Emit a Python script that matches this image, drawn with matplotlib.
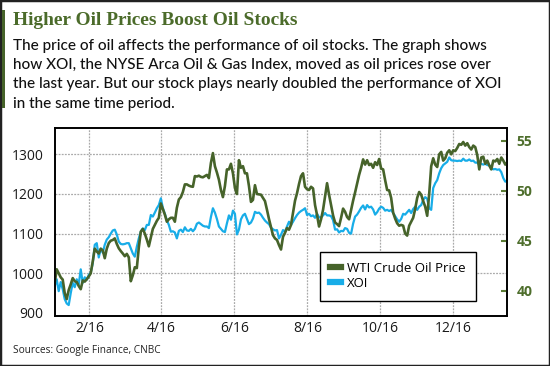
import matplotlib
matplotlib.use('Agg')
import matplotlib.pyplot as plt
import pandas as pd
from matplotlib.patches import Rectangle
from matplotlib.lines import Line2D

wti = [40.75, 42.14, 41.74, 41.34, 41.11, 39.76, 39.16, 40.07, 40.63, 41.26,
       40.95, 40.87, 40.47, 40.15, 41.03, 40.91, 41.14, 41.42, 41.74, 42.93,
       44.20, 43.92, 43.72, 44.20, 44.04, 43.25, 44.20, 44.76, 45.00, 45.07,
       45.23, 44.68, 44.24, 43.96, 43.72, 43.45, 43.68, 43.33,
       40.95, 41.54, 42.34, 42.26, 44.32, 45.91, 46.18, 45.71, 45.11, 44.44,
       45.31, 46.18, 46.58, 46.98, 47.29, 48.72, 48.17, 47.61, 46.90, 47.14,
       47.29, 47.29, 46.90, 48.29, 49.12, 49.36, 49.87, 50.63, 50.63, 50.51,
       50.43, 50.39, 51.46, 51.42, 51.50,
       51.38, 51.34, 51.46, 51.58, 51.26, 52.77, 53.76, 52.45, 51.82, 51.10,
       50.07, 49.36, 50.47, 52.13, 52.13, 52.69, 51.74, 50.27, 49.67, 53.05,
       52.29, 52.45, 51.74, 51.74, 50.47, 48.88, 49.08, 50.55, 49.67, 49.63,
       49.60, 49.28, 48.96, 48.09, 47.17, 46.34, 45.55, 45.23,
       45.07, 44.56, 44.12, 45.39, 45.79, 46.26, 46.10, 46.58, 47.77, 49.00,
       49.75, 50.67, 51.46, 51.74, 50.39, 50.15, 50.07, 50.39, 50.23, 48.56,
       47.57, 46.42, 47.14, 48.09, 49.40, 50.75, 49.60, 48.56, 47.53, 46.82,
       46.66, 46.46, 47.29, 48.21, 47.89, 47.37, 47.14,
       48.09, 49.00, 49.83, 50.71, 51.58, 52.29, 53.13, 52.61, 53.05, 52.57,
       52.69, 52.29, 52.85, 52.57, 53.17, 52.21, 52.13, 51.06, 50.07, 50.03,
       49.28, 47.81, 47.21, 46.74, 46.50, 46.58, 46.50, 45.71, 45.51, 46.50,
       46.90, 47.29, 48.17, 49.28, 49.87, 49.60, 48.96, 48.40,
       47.49, 49.67, 52.45, 53.24, 52.61, 52.37, 53.64, 53.88, 53.01, 53.24,
       53.80, 54.04, 53.64, 54.04, 53.96, 54.28, 54.67, 54.59, 54.87, 54.51,
       54.75, 54.36, 54.12, 54.51, 54.36, 53.56, 52.13, 53.32, 53.40, 52.69,
       53.01, 52.53, 52.13, 53.01, 52.93, 53.17, 52.69, 53.32, 53.01, 52.61,
       52.85]

xoi = [968, 985, 955, 978, 960, 935, 924, 920, 950, 976,
       965, 985, 972, 1010, 976, 990, 984, 996, 1002, 1025,
       1072, 1076, 1040, 1062, 1052, 1072, 1085, 1091, 1100, 1108,
       1110, 1098, 1080, 1074, 1073, 1074, 1076, 1076,
       1063, 1050, 1042, 1067, 1088, 1105, 1113, 1109, 1122, 1122,
       1147, 1143, 1153, 1164, 1172, 1189, 1165, 1150, 1134, 1122,
       1105, 1106, 1103, 1088, 1107, 1110, 1104, 1116, 1108, 1107,
       1112, 1106, 1112, 1125, 1128,
       1124, 1120, 1118, 1118, 1114, 1142, 1164, 1153, 1137, 1118,
       1112, 1106, 1104, 1126, 1146, 1135, 1158, 1150, 1098, 1110,
       1136, 1146, 1150, 1137, 1124, 1128, 1138, 1155, 1152, 1153,
       1148, 1140, 1133, 1128, 1124, 1115, 1111, 1108,
       1109, 1088, 1097, 1109, 1105, 1118, 1130, 1122, 1130, 1139,
       1147, 1153, 1157, 1160, 1164, 1147, 1150, 1144, 1146, 1140,
       1150, 1141, 1141, 1146, 1152, 1146, 1146, 1144, 1134, 1110,
       1111, 1103, 1107, 1106, 1114, 1112, 1102,
       1100, 1125, 1143, 1148, 1156, 1165, 1171, 1161, 1172, 1166,
       1168, 1161, 1148, 1154, 1163, 1168, 1165, 1158, 1160, 1157,
       1160, 1152, 1144, 1136, 1130, 1137, 1150, 1148, 1154, 1160,
       1152, 1162, 1168, 1160, 1168, 1172, 1185, 1192,
       1188, 1164, 1160, 1215, 1227, 1235, 1252, 1265, 1273, 1277,
       1281, 1292, 1285, 1284, 1284, 1283, 1284, 1283, 1289, 1284,
       1284, 1287, 1283, 1284, 1279, 1279, 1274, 1276, 1274, 1276,
       1273, 1272, 1266, 1262, 1263, 1261, 1262, 1255, 1240, 1231,
       1234]

dates = pd.date_range('2016-01-03', '2017-01-15', periods=len(xoi))
tick_dates = pd.to_datetime(['2016-02-01', '2016-04-01', '2016-06-01',
                             '2016-08-01', '2016-10-01', '2016-12-01'])
tick_labels = ['2/16', '4/16', '6/16', '8/16', '10/16', '12/16']
xoi_ticks = [900, 1000, 1100, 1200, 1300]
wti_ticks = [40, 45, 50, 55]

title = 'Higher Oil Prices Boost Oil Stocks'
body = ['The price of oil affects the performance of oil stocks. The graph shows',
        'how XOI, the NYSE Arca Oil & Gas Index, moved as oil prices rose over',
        'the last year. But our stock plays nearly doubled the performance of XOI',
        'in the same time period.']
source = 'Sources: Google Finance, CNBC'

green = '#46632a'
blue = '#18ade8'
W, H = 550, 366

plt.rcParams['font.family'] = ['Open Sans', 'DejaVu Sans']

fig = plt.figure(figsize=(W / 100, H / 100), dpi=100)
renderer = fig.canvas.get_renderer()


def fit_width(t, target):
    # scale a text's font so it spans target pixels
    w = t.get_window_extent(renderer).width
    t.set_fontsize(t.get_fontsize() * target / w)
    return t.get_fontsize()


# frame and accent bar
fig.patches.append(Rectangle((0, 0), 1, 1, transform=fig.transFigure,
                             fill=False, ec='#222222', lw=2.5))
fig.patches.append(Rectangle((1.5 / W, 1 - 108 / H), 3 / W, 98 / H,
                             transform=fig.transFigure, fc=green, ec='none'))

t = fig.text(13 / W, 1 - 25 / H, title, family='Liberation Serif',
             weight='bold', color='#4b6b2a', fontsize=15, va='baseline')
fit_width(t, 285)

t = fig.text(13 / W, 1 - 49.7 / H, body[0], color='#111111', fontsize=11,
             family='Lato', weight='medium', va='baseline')
fs = fit_width(t, 475)
for i, line in enumerate(body[1:], 1):
    fig.text(13 / W, 1 - (49.7 + 19.3 * i) / H, line, color='#111111',
             fontsize=fs, family='Lato', weight='medium', va='baseline')

t = fig.text(13.3 / W, 1 - 352.5 / H, source, color='#222222', fontsize=7,
             va='baseline')
fit_width(t, 148)

ax = fig.add_axes([54.7 / W, 1 - 316 / H, 452.6 / W, 188 / H])
ax.plot(dates, xoi, color=blue, lw=1.6)
ax.set_xlim(dates[0], dates[-1])
ax.set_ylim(892.4, 1366.3)
ax.set_yticks(xoi_ticks)
ax.set_xticks(tick_dates)
ax.set_xticklabels(tick_labels)
ax.tick_params(axis='y', length=0, pad=8.2, labelsize=10, labelcolor='#1a1a1a')
ax.tick_params(axis='x', length=0, pad=3.5, labelsize=10, labelcolor='#1a1a1a')
ax.grid(True, color='#aaaaaa', lw=0.9, ls=(0, (1.5, 1)))
ax.get_ygridlines()[0].set_visible(False)
ax.set_axisbelow(True)
for s in ax.spines.values():
    s.set_linewidth(1.2)

ax2 = ax.twinx()
ax2.plot(dates, wti, color=green, lw=1.9)
ax2.set_ylim(37.47, 56.27)
ax2.set_yticks(wti_ticks)
ax2.tick_params(axis='y', direction='in', length=4, width=1.5, color='#5b7b35',
                labelcolor='#4e6e2c', labelsize=10, pad=6.8)
for lab in ax2.get_yticklabels():
    lab.set_fontweight('bold')
for s in ax2.spines.values():
    s.set_linewidth(1.2)

handles = [Line2D([0], [0], color=green, lw=4.5),
           Line2D([0], [0], color=blue, lw=4.5)]
leg = ax2.legend(handles, ['WTI Crude Oil Price', 'XOI'], loc='lower left',
                 bbox_to_anchor=(0.586, 0.0814), borderaxespad=0,
                 fontsize=10, handlelength=0.75, handletextpad=0.45,
                 borderpad=0.75, labelspacing=0.15, fancybox=False,
                 framealpha=1, edgecolor='black')
leg.get_frame().set_linewidth(1.0)
fit_width(leg.get_texts()[0], 119)
leg.get_texts()[1].set_fontsize(leg.get_texts()[0].get_fontsize())

fig.savefig('out.png', dpi=100)
